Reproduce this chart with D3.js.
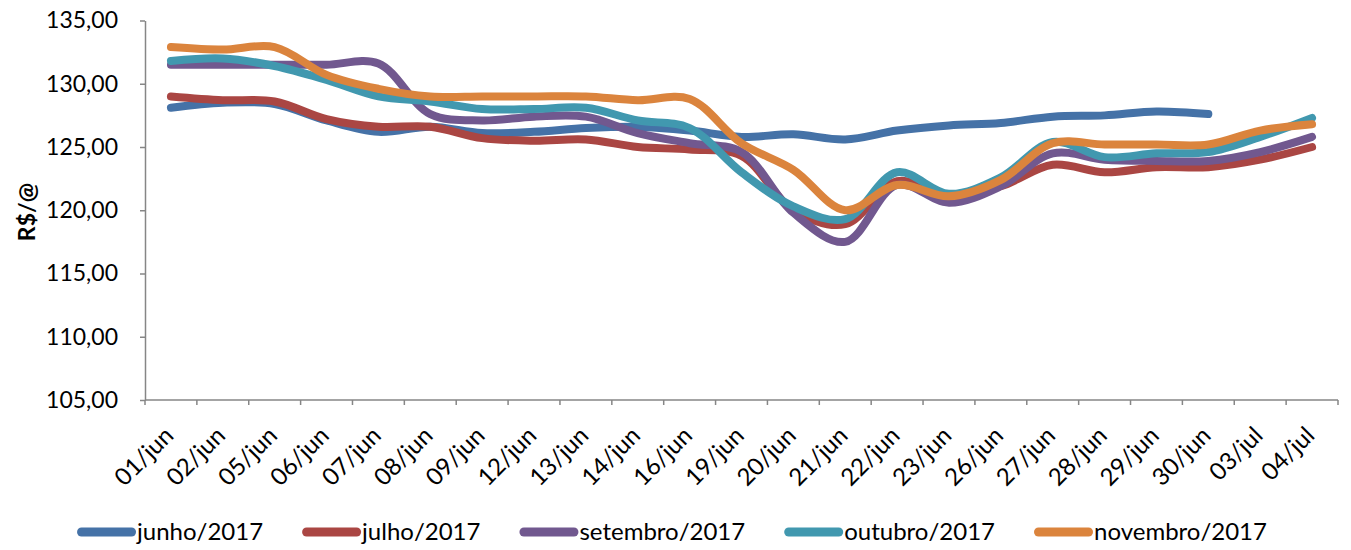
<!DOCTYPE html>
<html>
<head>
<meta charset="utf-8">
<script src="https://cdn.jsdelivr.net/npm/d3@7"></script>
<style>
  body { margin: 0; background: #fff; }
  svg text { font-family: Lato, "Open Sans", sans-serif; fill: #000; }
</style>
</head>
<body>
<svg id="chart" width="1351" height="550"></svg>
<script>
// Categories (trading days)
var days = ["01/jun", "02/jun", "05/jun", "06/jun", "07/jun", "08/jun", "09/jun", "12/jun",
    "13/jun", "14/jun", "16/jun", "19/jun", "20/jun", "21/jun", "22/jun", "23/jun",
    "26/jun", "27/jun", "28/jun", "29/jun", "30/jun", "03/jul", "04/jul"];

// Series values, R$/@
var junho = [128.1, 128.5, 128.4, 127.1, 126.2, 126.6, 126.1, 126.2, 126.5, 126.6, 126.3, 125.8,
    126.0, 125.6, 126.3, 126.7, 126.9, 127.4, 127.5, 127.8, 127.6, null, null];
var julho = [129.0, 128.7, 128.6, 127.2, 126.6, 126.6, 125.7, 125.5, 125.6, 125.0, 124.8, 124.3,
    120.0, 118.9, 122.3, 121.2, 121.9, 123.6, 123.0, 123.4, 123.4, 124.0, 125.0];
var setembro = [131.5, 131.5, 131.5, 131.5, 131.6, 127.6, 127.1, 127.4, 127.4, 126.1, 125.3, 124.6,
    119.8, 117.5, 122.0, 120.6, 121.9, 124.5, 124.0, 123.9, 123.9, 124.6, 125.8];
var outubro = [131.8, 132.0, 131.4, 130.3, 129.0, 128.6, 128.0, 128.0, 128.1, 127.1, 126.5, 123.0,
    120.3, 119.3, 123.0, 121.3, 122.6, 125.4, 124.2, 124.5, 124.6, 125.8, 127.3];
var novembro = [132.9, 132.7, 132.9, 130.7, 129.6, 129.0, 129.0, 129.0, 129.0, 128.7, 128.8, 125.3,
    123.2, 120.0, 122.0, 121.1, 122.4, 125.3, 125.2, 125.2, 125.2, 126.3, 126.8];

var seriesNames = ["junho/2017", "julho/2017", "setembro/2017", "outubro/2017", "novembro/2017"];
var seriesColors = ["#4572A7", "#AA4643", "#71588F", "#4198AF", "#DB843D"];
var yTicks = [105, 110, 115, 120, 125, 130, 135];

var series = [junho, julho, setembro, outubro, novembro].map(function(vals, i) {
    return { name: seriesNames[i], color: seriesColors[i], values: vals };
});

// Plot area
var plotLeft = 145, plotRight = 1338, plotTop = 20.5, plotBottom = 400;
var svg = d3.select("#chart");
var axisColor = "#868686";

var x = d3.scaleBand().domain(days).range([plotLeft, plotRight]).padding(0);
var y = d3.scaleLinear().domain([105, 135]).range([plotBottom, plotTop]);

var ptBR = d3.formatLocale({ decimal: ",", thousands: ".", grouping: [3], currency: ["R$", ""] });
var fmt = ptBR.format(".2f");

// Y axis
var yAxis = svg.append("g")
    .attr("transform", "translate(" + plotLeft + ",0)")
    .call(d3.axisLeft(y).tickValues(yTicks).tickFormat(fmt).tickSize(5).tickSizeOuter(0).tickPadding(22));
yAxis.select(".domain").attr("stroke", axisColor).attr("stroke-width", 1.5);
yAxis.selectAll(".tick line").attr("stroke", axisColor).attr("stroke-width", 1.5);
yAxis.selectAll(".tick text")
    .attr("fill", "#000")
    .style("font-size", "23px")
    .style("font-family", "Lato, 'Open Sans', sans-serif");

// X axis: line, ticks at category boundaries, rotated labels at centres
svg.append("line")
    .attr("x1", plotLeft).attr("x2", plotRight).attr("y1", plotBottom).attr("y2", plotBottom)
    .attr("stroke", axisColor).attr("stroke-width", 1.5);

var edges = days.map(function(d) { return x(d); }).concat([plotRight]);
svg.append("g").selectAll("line")
    .data(edges)
    .enter().append("line")
    .attr("x1", function(d) { return d; })
    .attr("x2", function(d) { return d; })
    .attr("y1", plotBottom)
    .attr("y2", plotBottom + 5)
    .attr("stroke", axisColor)
    .attr("stroke-width", 1.5);

svg.append("g").selectAll("text")
    .data(days)
    .enter().append("text")
    .attr("transform", function(d) {
        return "translate(" + (x(d) + x.bandwidth() / 2 + 4) + "," + (plotBottom + 37) + ") rotate(-45)";
    })
    .attr("text-anchor", "end")
    .style("font-size", "24px")
    .text(function(d) { return d; });

// Y axis title
svg.append("text")
    .attr("transform", "translate(35,212) rotate(-90)")
    .attr("text-anchor", "middle")
    .style("font-size", "23px")
    .style("font-weight", "bold")
    .text("R$/@");

// Lines
var line = d3.line()
    .defined(function(d) { return d != null; })
    .x(function(d, i) { return x(days[i]) + x.bandwidth() / 2; })
    .y(function(d) { return y(d); })
    .curve(d3.curveCatmullRom.alpha(0.5));

svg.append("g").selectAll("path")
    .data(series)
    .enter().append("path")
    .attr("d", function(d) { return line(d.values); })
    .attr("fill", "none")
    .attr("stroke", function(d) { return d.color; })
    .attr("stroke-width", 8)
    .attr("stroke-linecap", "round")
    .attr("stroke-linejoin", "round");

// Legend, laid out left to right then centred
var legend = svg.append("g");
var swatchW = 59, gap = 39, cursor = 0;
series.forEach(function(s) {
    var item = legend.append("g").attr("transform", "translate(" + cursor + ",0)");
    item.append("line")
        .attr("x1", 4.5).attr("x2", swatchW - 4.5)
        .attr("y1", 0).attr("y2", 0)
        .attr("stroke", s.color)
        .attr("stroke-width", 9)
        .attr("stroke-linecap", "round");
    var t = item.append("text")
        .attr("x", swatchW + 1)
        .attr("y", 8)
        .style("font-size", "24px")
        .text(s.name);
    cursor += swatchW + 1 + t.node().getComputedTextLength() + gap;
});
var legendW = cursor - gap;
legend.attr("transform", "translate(" + (672 - legendW / 2) + ",532)");
</script>
</body>
</html>
